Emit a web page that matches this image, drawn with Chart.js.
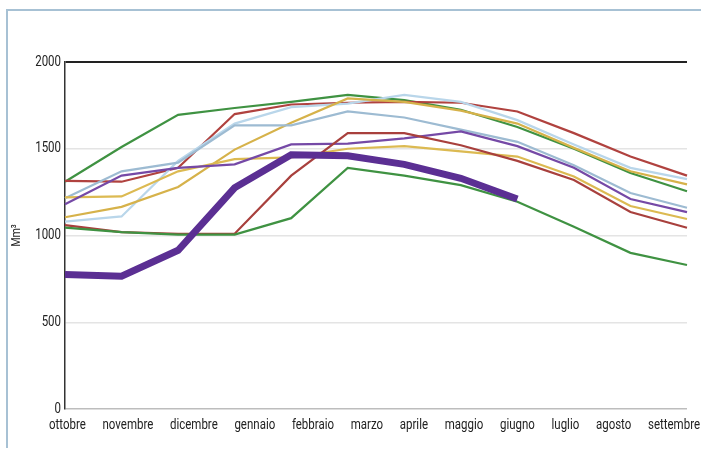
<!DOCTYPE html>
<html lang="it">
<head>
<meta charset="utf-8">
<title>Volumi invasati</title>
<script src="https://cdn.jsdelivr.net/npm/chart.js@4.4.1/dist/chart.umd.min.js"></script>
<style>
  html, body { margin: 0; padding: 0; background: #fff; }
  #wrap { position: relative; width: 701px; height: 453px; }
  #cornice {
    position: absolute; left: 6px; top: 9px; width: 695px; height: 439px;
    border-top: 2px solid #a7c1d4; border-left: 2px solid #a7c1d4;
    box-sizing: border-box; pointer-events: none;
  }
</style>
</head>
<body>
<div id="wrap">
  <canvas id="grafico" width="701" height="453"></canvas>
  <div id="cornice"></div>
</div>
<script>
// Mesi (anno idrologico ottobre - settembre)
const mesi = ['ottobre', 'novembre', 'dicembre', 'gennaio', 'febbraio', 'marzo',
  'aprile', 'maggio', 'giugno', 'luglio', 'agosto', 'settembre'];
// Tacche asse y (Mm³)
const tacche = [0, 500, 1000, 1500, 2000];
const titoloY = 'Mm³';

// Serie (Mm³)
const violaSpesso = [775, 765, 915, 1275, 1465, 1460, 1410, 1330, 1210];
const verdeA = [1310, 1510, 1695, 1735, 1770, 1810, 1780, 1725, 1625, 1500, 1360, 1255];
const rossoA = [1315, 1310, 1390, 1700, 1755, 1765, 1770, 1765, 1715, 1590, 1455, 1345];
const celeste = [1080, 1110, 1430, 1645, 1740, 1760, 1810, 1770, 1665, 1525, 1390, 1325];
const azzurro = [1215, 1370, 1420, 1635, 1635, 1715, 1680, 1610, 1540, 1405, 1245, 1160];
const gialloA = [1105, 1165, 1280, 1495, 1650, 1790, 1770, 1720, 1645, 1505, 1370, 1295];
const gialloB = [1220, 1225, 1370, 1440, 1450, 1500, 1515, 1485, 1455, 1340, 1170, 1095];
const viola = [1180, 1345, 1390, 1410, 1525, 1530, 1560, 1600, 1515, 1390, 1210, 1135];
const rossoB = [1060, 1020, 1010, 1010, 1345, 1590, 1590, 1520, 1430, 1320, 1135, 1045];
const verdeB = [1045, 1020, 1005, 1005, 1100, 1390, 1345, 1290, 1195, 1050, 900, 830];

const famiglia = "Roboto, 'Liberation Sans', sans-serif";
const stretto = 0.82; // compressione orizzontale del testo (carattere condensato)

function serie(dati, colore, spessore) {
  return {
    data: dati,
    borderColor: colore,
    borderWidth: spessore || 2.2,
    pointRadius: 0,
    tension: 0,
    fill: false
  };
}

function testoStretto(ctx, testo, x, y, allinea) {
  ctx.save();
  ctx.translate(x, y);
  ctx.scale(stretto, 1);
  ctx.textAlign = allinea;
  ctx.fillText(testo, 0, 0);
  ctx.restore();
}

// Testi degli assi in carattere condensato; i mesi sono giustificati sulla riga
const testiAssi = {
  id: 'testiAssi',
  afterDraw(chart) {
    const ctx = chart.ctx;
    const area = chart.chartArea;
    ctx.save();
    ctx.fillStyle = '#222';
    ctx.font = '14px ' + famiglia;

    // mesi
    ctx.textBaseline = 'top';
    const larghezze = mesi.map(m => ctx.measureText(m).width * stretto);
    const sinistra = area.left - 16;
    const destra = chart.width - 1;
    const somma = larghezze.reduce((a, b) => a + b, 0);
    const spazio = (destra - sinistra - somma) / (mesi.length - 1);
    let px = sinistra;
    mesi.forEach((m, i) => {
      testoStretto(ctx, m, px, area.bottom + 9, 'left');
      px += larghezze[i] + spazio;
    });

    // valori asse y
    const y = chart.scales.y;
    ctx.textBaseline = 'middle';
    tacche.forEach(v => {
      testoStretto(ctx, String(v), area.left - 4, y.getPixelForValue(v), 'right');
    });

    // titolo asse y
    ctx.font = '13px ' + famiglia;
    ctx.save();
    ctx.translate(17, (area.top + area.bottom) / 2);
    ctx.rotate(-Math.PI / 2);
    testoStretto(ctx, titoloY, 0, 0, 'center');
    ctx.restore();

    ctx.restore();
  }
};

new Chart(document.getElementById('grafico'), {
  type: 'line',
  data: {
    labels: mesi,
    datasets: [
      serie(violaSpesso, '#5b2f93', 7),
      serie(verdeB, '#3f9242'),
      serie(rossoB, '#a8403d'),
      serie(viola, '#7549a6'),
      serie(gialloB, '#dcba52'),
      serie(azzurro, '#9dbbd2'),
      serie(gialloA, '#d6b24a'),
      serie(celeste, '#b9d6ea'),
      serie(rossoA, '#b0423f'),
      serie(verdeA, '#3f9242')
    ]
  },
  options: {
    responsive: false,
    animation: false,
    layout: { padding: { top: 62, left: 0, right: 14, bottom: 0 } },
    plugins: {
      legend: { display: false },
      tooltip: { enabled: false }
    },
    scales: {
      x: {
        offset: false,
        grid: { display: false },
        border: { display: false },
        ticks: { color: 'transparent', autoSkip: false, maxRotation: 0, font: { size: 14, family: famiglia } },
        afterFit(scale) {
          scale.height = 44;
          scale.paddingLeft = 0;
          scale.paddingRight = 0;
        }
      },
      y: {
        min: tacche[0],
        max: tacche[tacche.length - 1],
        afterBuildTicks(scale) {
          scale.ticks = tacche.map(v => ({ value: v }));
        },
        grid: {
          drawTicks: false,
          color: ctx => ctx.tick.value === 2000 ? '#222' : (ctx.tick.value === 0 ? '#bdbdbd' : '#e4e4e4'),
          lineWidth: ctx => ctx.tick.value === 2000 ? 2 : 1.5
        },
        border: { color: '#333', width: 1.5 },
        ticks: { color: 'transparent', padding: 4, font: { size: 14, family: famiglia } },
        afterFit(scale) {
          scale.width = 65;
        }
      }
    }
  },
  plugins: [testiAssi]
});
</script>
</body>
</html>
